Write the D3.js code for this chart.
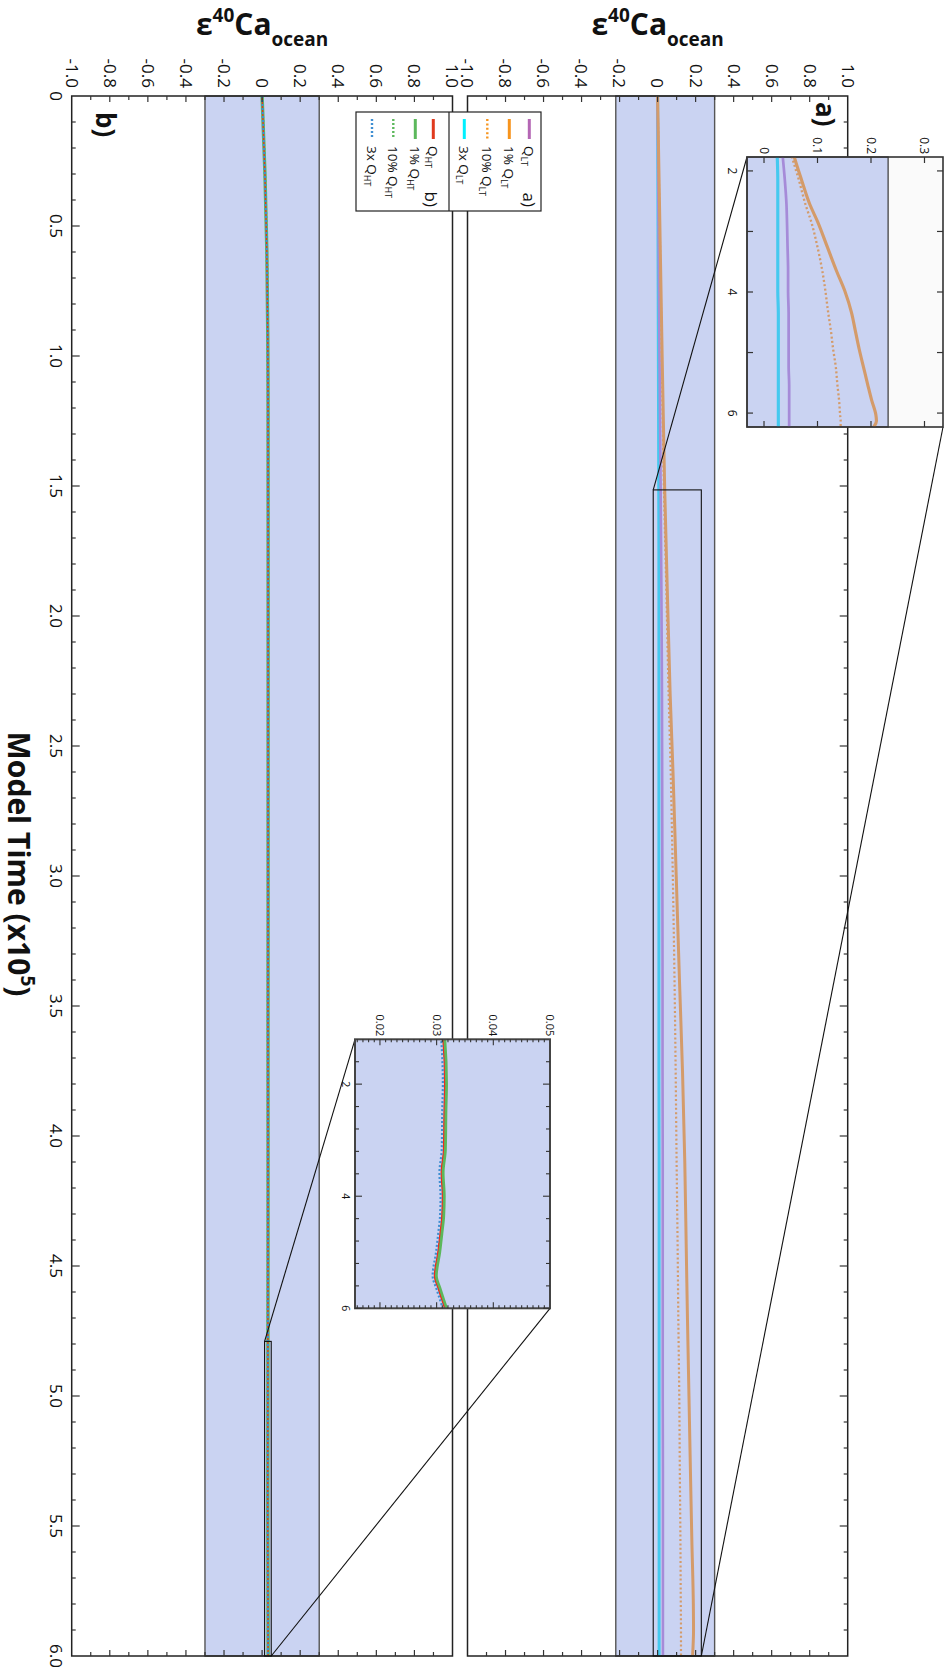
<!DOCTYPE html>
<html><head><meta charset="utf-8">
<script src="https://cdn.jsdelivr.net/npm/d3@7"></script>
<style>body{margin:0;background:#fff}svg{display:block}text{font-family:'Open Sans',sans-serif;fill:#111}</style>
</head><body>
<svg id="c" width="949" height="1673"></svg>
<script>
// ---------------- DATA ----------------
// Panel a (low-temperature scenarios)
const timeA   = [0, 0.5, 1.0, 1.5, 1.9, 2.3, 2.6, 3.0, 3.4, 3.75, 4.1, 4.4, 4.7, 5.0, 5.3, 5.55, 5.8, 5.9, 6.0];
const qLT     = [0, 0.005, 0.010, 0.016, 0.020, 0.023, 0.024, 0.025, 0.026, 0.026, 0.027, 0.027, 0.027, 0.027, 0.028, 0.028, 0.028, 0.028, 0.028];
const qLT1    = [0, 0.012, 0.024, 0.037, 0.051, 0.066, 0.081, 0.098, 0.115, 0.131, 0.143, 0.150, 0.157, 0.165, 0.173, 0.180, 0.188, 0.189, 0.184];
const qLT10   = [0, 0.011, 0.022, 0.033, 0.046, 0.058, 0.069, 0.080, 0.089, 0.095, 0.100, 0.105, 0.109, 0.114, 0.117, 0.120, 0.122, 0.123, 0.123];
const qLT3x   = [0, 0.002, 0.004, 0.006, 0.007, 0.007, 0.007, 0.007, 0.007, 0.007, 0.008, 0.008, 0.008, 0.008, 0.008, 0.008, 0.008, 0.008, 0.008];
// Panel b (high-temperature scenarios)
const timeB   = [0, 0.3, 0.6, 1.0, 1.2, 2.0, 2.46, 3.17, 3.58, 4.0, 4.36, 4.65, 5.0, 5.42, 5.66, 6.0];
const qHT     = [0, 0.0148, 0.0248, 0.0302, 0.0311, 0.0314, 0.0313, 0.0312, 0.0308, 0.0310, 0.0309, 0.0306, 0.0302, 0.0296, 0.0303, 0.0314];
const qHT1    = [0, 0.0150, 0.0250, 0.0305, 0.0314, 0.0317, 0.0316, 0.0315, 0.0311, 0.0313, 0.0312, 0.0309, 0.0305, 0.0299, 0.0306, 0.0317];
const qHT10   = [0, 0.0149, 0.0249, 0.0304, 0.0313, 0.0316, 0.0315, 0.0314, 0.0310, 0.0312, 0.0311, 0.0308, 0.0304, 0.0298, 0.0305, 0.0316];
const qHT3x   = [0, 0.0146, 0.0246, 0.0299, 0.0308, 0.0311, 0.0310, 0.0309, 0.0305, 0.0307, 0.0306, 0.0303, 0.0299, 0.0293, 0.0300, 0.0311];
// Bands of observed range
const bandA = [-0.22, 0.3];
const bandB = [-0.3, 0.3];
// Zoomed regions (time, value)
const zoomATime = [1.515, 6.0], zoomAValue = [-0.023, 0.23];
const zoomBTime = [4.79, 6.0],  zoomBValue = [0.013, 0.048];
// Axis ticks
const valueTicks = [-1.0, -0.8, -0.6, -0.4, -0.2, 0, 0.2, 0.4, 0.6, 0.8, 1.0];
const valueTickLabels = ["-1.0","-0.8","-0.6","-0.4","-0.2","0","0.2","0.4","0.6","0.8","1.0"];
const timeTicks = [0, 0.5, 1.0, 1.5, 2.0, 2.5, 3.0, 3.5, 4.0, 4.5, 5.0, 5.5, 6.0];
const timeTickLabels = ["0","0.5","1.0","1.5","2.0","2.5","3.0","3.5","4.0","4.5","5.0","5.5","6.0"];
const insetATimeTicks = [2, 3, 4, 5, 6];
const insetATimeLabels = ["2", "", "4", "", "6"];
const insetAValueTicks = [0, 0.1, 0.2, 0.3];
const insetAValueLabels = ["0", "0.1", "0.2", "0.3"];
const insetABandTop = 0.232;
const insetBTimeTicks = [1.6, 2.0, 2.4, 2.8, 3.2, 3.6, 4.0, 4.4, 4.8, 5.2, 5.6, 6.0];
const insetBTimeLabels = ["", "2", "", "", "", "", "4", "", "", "", "", "6"];
const insetBValueTicks = [0.02, 0.03, 0.04, 0.05];
const insetBValueLabels = ["0.02", "0.03", "0.04", "0.05"];
// Legends
const legendANames = ["Q", "1% Q", "10% Q", "3x Q"];
const legendBNames = ["Q", "1% Q", "10% Q", "3x Q"];

// ---------------- STYLE ----------------
const BAND = "#cad3f2";
const seriesA = [
  {v: qLT3x, plot: "#45c9ef", leg: "#00f0ff", w: 3, dash: null},
  {v: qLT,   plot: "#a68bd8", leg: "#b466b4", w: 2.6, dash: null},
  {v: qLT10, plot: "#d49b6a", leg: "#f7941d", w: 2.2, dash: "2,2.4"},
  {v: qLT1,  plot: "#d49b6a", leg: "#f7941d", w: 3, dash: null}
];
const legendAStyle = [seriesA[1], seriesA[3], seriesA[2], seriesA[0]];
const seriesB = [
  {v: qHT1,  plot: "#5cb85c", leg: "#5cb85c", w: 3.4, dash: null},
  {v: qHT10, plot: "#5cb85c", leg: "#5cb85c", w: 2.2, dash: "2,2"},
  {v: qHT,   plot: "#ee2a1e", leg: "#e03a1e", w: 1.2, dash: null},
  {v: qHT3x, plot: "#3f8fd2", leg: "#3f8fd2", w: 2.2, dash: "2,2"}
];
const legendBStyle = [seriesB[2], seriesB[0], seriesB[1], seriesB[3]];

// ---------------- DRAW (chart drawn unrotated, then rotated 90° cw) ----------------
const svg = d3.select("#c");
const g = svg.append("g").attr("transform", "translate(949,0) rotate(90)");

const x  = d3.scaleLinear().domain([0, 6]).range([96, 1656]);
const yA = d3.scaleLinear().domain([-1, 1]).range([481.5, 101.3]);
const yB = d3.scaleLinear().domain([-1, 1]).range([877.3, 496.5]);

function drawLines(parent, xs, ys, tArr, series, widthScale) {
  series.forEach(s => {
    const line = d3.line().x(d => xs(d[0])).y(d => ys(d[1])).curve(d3.curveMonotoneX);
    parent.append("path").datum(s.v.map((v, i) => [tArr[i], v]))
      .attr("d", line).attr("fill", "none").attr("stroke", s.plot)
      .attr("stroke-width", s.w * (widthScale || 1))
      .attr("stroke-dasharray", s.dash);
  });
}

function panel(y, band, tArr, series, ticksSide) {
  const [yb, yt] = y.range();
  const x0 = x(0), x1 = x(6);
  g.append("rect").attr("x", x0).attr("y", yt).attr("width", x1 - x0).attr("height", yb - yt).attr("fill", "#fff");
  g.append("rect").attr("x", x0).attr("y", y(band[1])).attr("width", x1 - x0)
    .attr("height", y(band[0]) - y(band[1])).attr("fill", BAND).attr("stroke", "#555").attr("stroke-width", 1.4);
  drawLines(g, x, y, tArr, series);
  g.append("rect").attr("x", x0).attr("y", yt).attr("width", x1 - x0).attr("height", yb - yt)
    .attr("fill", "none").attr("stroke", "#222").attr("stroke-width", 1.5);
  const vt = d3.range(-9, 10).map(i => ({v: i / 10, major: i % 2 === 0}));
  const tk = g.append("g").attr("stroke", "#333").attr("stroke-width", 1.2);
  vt.forEach(d => {
    const L = d.major ? 6 : 4;
    tk.append("line").attr("x1", x0).attr("x2", x0 + L).attr("y1", y(d.v)).attr("y2", y(d.v));
    tk.append("line").attr("x1", x1).attr("x2", x1 - L).attr("y1", y(d.v)).attr("y2", y(d.v));
  });
  const tt = d3.range(1, 60).map(i => ({t: i / 10, major: i % 5 === 0}));
  tt.forEach(d => {
    const L = d.major ? 8 : 4;
    const ye = ticksSide === "bottom" ? yb : yt;
    const dir = ticksSide === "bottom" ? -1 : 1;
    tk.append("line").attr("x1", x(d.t)).attr("x2", x(d.t)).attr("y1", ye).attr("y2", ye + dir * L);
  });
  valueTicks.forEach((v, i) => {
    g.append("text").attr("x", 88).attr("y", y(v)).attr("dy", "0.36em")
      .attr("text-anchor", "end").attr("font-size", 17).text(valueTickLabels[i]);
  });
  const yc = (yb + yt) / 2;
  const tt2 = g.append("text").attr("transform", `translate(35,${yc}) rotate(-90)`)
    .attr("text-anchor", "middle").attr("font-size", 30).attr("font-weight", "bold");
  tt2.append("tspan").text("ε");
  tt2.append("tspan").attr("font-size", 19).attr("dy", -13).text("40");
  tt2.append("tspan").attr("dy", 13).text("Ca");
  tt2.append("tspan").attr("font-size", 19).attr("dy", 11).text("ocean");
}

panel(yA, bandA, timeA, seriesA, "top");
panel(yB, bandB, timeB, seriesB, "bottom");

timeTicks.forEach((t, i) => {
  g.append("text").attr("x", x(t)).attr("y", 899).attr("text-anchor", "middle")
    .attr("font-size", 17).text(timeTickLabels[i]);
});
const xt = g.append("text").attr("x", 864).attr("y", 941).attr("text-anchor", "middle")
  .attr("font-size", 30).attr("font-weight", "bold");
xt.append("tspan").text("Model Time (x10");
xt.append("tspan").attr("font-size", 19).attr("dy", -13).text("5");
xt.append("tspan").attr("dy", 13).text(")");

g.append("text").attr("x", 102).attr("y", 133).attr("font-size", 26).attr("font-weight", "bold").text("a)");
g.append("text").attr("x", 112).attr("y", 853).attr("font-size", 26).attr("font-weight", "bold").text("b)");

function zoomRect(y, tr, vr) {
  g.append("rect").attr("x", x(tr[0])).attr("y", y(vr[1])).attr("width", x(tr[1]) - x(tr[0]))
    .attr("height", y(vr[0]) - y(vr[1])).attr("fill", "none").attr("stroke", "#111").attr("stroke-width", 1.1);
}
zoomRect(yA, zoomATime, zoomAValue);
zoomRect(yB, zoomBTime, zoomBValue);

const insA = {x0: 157, x1: 427, yb: 202, yt: 6};
const insB = {x0: 1039.3, x1: 1308.3, yb: 594, yt: 399};
const con = g.append("g").attr("stroke", "#111").attr("stroke-width", 1.1);
con.append("line").attr("x1", x(zoomATime[0])).attr("y1", yA(zoomAValue[0])).attr("x2", insA.x0).attr("y2", insA.yb);
con.append("line").attr("x1", x(zoomATime[1])).attr("y1", yA(zoomAValue[1])).attr("x2", insA.x1).attr("y2", insA.yt);
con.append("line").attr("x1", x(zoomBTime[0])).attr("y1", yB(zoomBValue[0])).attr("x2", insB.x0).attr("y2", insB.yb);
con.append("line").attr("x1", x(zoomBTime[1])).attr("y1", yB(zoomBValue[1])).attr("x2", insB.x1).attr("y2", insB.yt);

// ---------------- LEGEND ----------------
const lg = g.append("g");
lg.append("rect").attr("x", 112).attr("y", 408).attr("width", 99).attr("height", 185)
  .attr("fill", "#fff").attr("stroke", "#222").attr("stroke-width", 1.2);
lg.append("line").attr("x1", 112).attr("x2", 211).attr("y1", 500).attr("y2", 500).attr("stroke", "#222").attr("stroke-width", 1.2);
const rowsA = [419.7, 439.7, 461.7, 484.7];
const rowsB = [515.7, 533.7, 555.7, 577];
function legendRows(names, styles, rows, sub) {
  names.forEach((n, i) => {
    const s = styles[i];
    lg.append("line").attr("x1", 119).attr("x2", 139).attr("y1", rows[i]).attr("y2", rows[i])
      .attr("stroke", s.leg).attr("stroke-width", s.dash ? 2.4 : 3).attr("stroke-dasharray", s.dash);
    const t = lg.append("text").attr("x", 146).attr("y", rows[i]).attr("dy", "0.36em").attr("font-size", 13.5);
    t.append("tspan").text(n);
    t.append("tspan").attr("font-size", 9).attr("dy", 3).text(sub);
  });
}
legendRows(legendANames, legendAStyle, rowsA, "LT");
legendRows(legendBNames, legendBStyle, rowsB, "HT");
lg.append("text").attr("x", 207).attr("y", rowsA[0]).attr("dy", "0.36em").attr("text-anchor", "end").attr("font-size", 17).text("a)");
lg.append("text").attr("x", 207).attr("y", rowsB[0] + 2).attr("dy", "0.36em").attr("text-anchor", "end").attr("font-size", 17).text("b)");

// ---------------- INSET A ----------------
const iaT  = d3.scaleLinear().domain([1.77, 6.23]).range([insA.x0, insA.x1]);
const iaV  = d3.scaleLinear().domain([-0.0318, 0.3346]).range([insA.yb, insA.yt]);
const iaTd = d3.scaleLinear().domain([zoomATime[0], 6.0]).range([insA.x0, insA.x1]);
const iaVd = d3.scaleLinear().domain([-0.0498, 0.3118]).range([insA.yb, insA.yt]);
const ia = g.append("g");
ia.append("rect").attr("x", insA.x0).attr("y", insA.yt).attr("width", insA.x1 - insA.x0).attr("height", insA.yb - insA.yt).attr("fill", "#fafafa");
ia.append("rect").attr("x", insA.x0).attr("y", iaV(insetABandTop)).attr("width", insA.x1 - insA.x0)
  .attr("height", insA.yb - iaV(insetABandTop)).attr("fill", BAND).attr("stroke", "#444").attr("stroke-width", 1.3);
g.append("clipPath").attr("id", "clipA").append("rect").attr("x", insA.x0).attr("y", insA.yt).attr("width", insA.x1 - insA.x0).attr("height", insA.yb - insA.yt);
const iaLines = ia.append("g").attr("clip-path", "url(#clipA)");
drawLines(iaLines, iaTd, iaVd, timeA, seriesA, 1.05);
ia.append("rect").attr("x", insA.x0).attr("y", insA.yt).attr("width", insA.x1 - insA.x0).attr("height", insA.yb - insA.yt)
  .attr("fill", "none").attr("stroke", "#333").attr("stroke-width", 1.6);
const iat = ia.append("g").attr("stroke", "#333").attr("stroke-width", 1.2);
insetAValueTicks.forEach((v, i) => {
  iat.append("line").attr("x1", insA.x0).attr("x2", insA.x0 + 6).attr("y1", iaV(v)).attr("y2", iaV(v));
  iat.append("line").attr("x1", insA.x1).attr("x2", insA.x1 - 6).attr("y1", iaV(v)).attr("y2", iaV(v));
  ia.append("text").attr("x", insA.x0 - 3).attr("y", iaV(v)).attr("dy", "0.36em").attr("text-anchor", "end")
    .attr("font-size", 12).text(insetAValueLabels[i]);
});
insetATimeTicks.forEach((t, i) => {
  iat.append("line").attr("x1", iaT(t)).attr("x2", iaT(t)).attr("y1", insA.yb).attr("y2", insA.yb - 6);
  iat.append("line").attr("x1", iaT(t)).attr("x2", iaT(t)).attr("y1", insA.yt).attr("y2", insA.yt + 6);
  if (insetATimeLabels[i]) ia.append("text").attr("x", iaT(t)).attr("y", insA.yb + 19).attr("text-anchor", "middle")
    .attr("font-size", 12).text(insetATimeLabels[i]);
});

// ---------------- INSET B ----------------
const ibT = d3.scaleLinear().domain([1.2, 6.0]).range([insB.x0, insB.x1]);
const ibV = d3.scaleLinear().domain([0.0156, 0.05]).range([insB.yb, insB.yt]);
const ib = g.append("g");
ib.append("rect").attr("x", insB.x0).attr("y", insB.yt).attr("width", insB.x1 - insB.x0).attr("height", insB.yb - insB.yt).attr("fill", BAND);
g.append("clipPath").attr("id", "clipB").append("rect").attr("x", insB.x0).attr("y", insB.yt).attr("width", insB.x1 - insB.x0).attr("height", insB.yb - insB.yt);
const ibLines = ib.append("g").attr("clip-path", "url(#clipB)");
drawLines(ibLines, ibT, ibV, timeB, seriesB);
ib.append("rect").attr("x", insB.x0).attr("y", insB.yt).attr("width", insB.x1 - insB.x0).attr("height", insB.yb - insB.yt)
  .attr("fill", "none").attr("stroke", "#444").attr("stroke-width", 2);
const ibt = ib.append("g").attr("stroke", "#333").attr("stroke-width", 1.1);
d3.range(16, 50).forEach(k => {
  const v = k / 1000, major = k % 10 === 0, L = major ? 6 : 3;
  ibt.append("line").attr("x1", insB.x0).attr("x2", insB.x0 + L).attr("y1", ibV(v)).attr("y2", ibV(v));
  ibt.append("line").attr("x1", insB.x1).attr("x2", insB.x1 - L).attr("y1", ibV(v)).attr("y2", ibV(v));
});
insetBValueTicks.forEach((v, i) => {
  ib.append("text").attr("x", insB.x0 - 3).attr("y", ibV(v)).attr("dy", "0.36em").attr("text-anchor", "end")
    .attr("font-size", 11).text(insetBValueLabels[i]);
});
insetBTimeTicks.forEach((t, i) => {
  const L = insetBTimeLabels[i] ? 7 : 4;
  ibt.append("line").attr("x1", ibT(t)).attr("x2", ibT(t)).attr("y1", insB.yb).attr("y2", insB.yb - L);
  ibt.append("line").attr("x1", ibT(t)).attr("x2", ibT(t)).attr("y1", insB.yt).attr("y2", insB.yt + L);
  if (insetBTimeLabels[i]) ib.append("text").attr("x", ibT(t)).attr("y", insB.yb + 13).attr("text-anchor", "middle")
    .attr("font-size", 10.5).text(insetBTimeLabels[i]);
});
</script>
</body></html>
